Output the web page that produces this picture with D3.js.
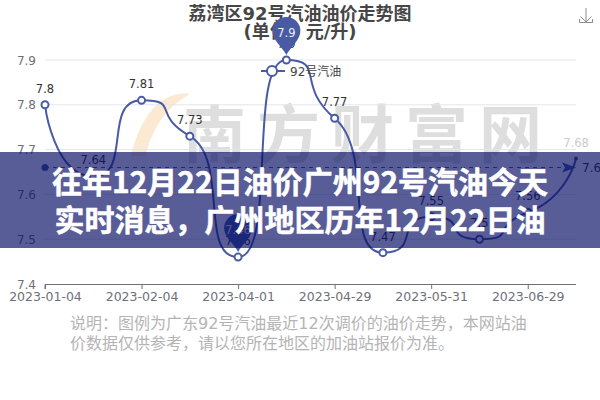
<!DOCTYPE html>
<html><head><meta charset="utf-8">
<script src="https://cdnjs.cloudflare.com/ajax/libs/d3/7.8.5/d3.min.js"></script>
<style>
html,body{margin:0;padding:0;background:#fff;overflow:hidden}
svg{display:block;font-family:"DejaVu Sans","Noto Sans CJK SC",sans-serif}
</style></head><body><svg id="c" width="600" height="400"></svg>
<script>
const categories=["2023-01-04","2023-01-18","2023-02-04","2023-03-03","2023-04-01","2023-04-15","2023-04-29","2023-05-16","2023-05-31","2023-06-14","2023-06-29","2023-07-13"];
const values=[7.8,7.64,7.81,7.73,7.46,7.9,7.77,7.47,7.55,7.5,7.56,7.68];
const yTicks=[7.4,7.5,7.6,7.7,7.8,7.9];
const xTickLabels=["2023-01-04","2023-02-04","2023-04-01","2023-04-29","2023-05-31","2023-06-29"];
const averageValue=7.66;
const seriesName="92号汽油";
const titleLines=["荔湾区92号汽油油价走势图","(单位：元/升)"];
const noteLines=["说明：图例为广东92号汽油最近12次调价的油价走势，本网站油","价数据仅供参考，请以您所在地区的加油站报价为准。"];
const bannerLines=["往年12月22日油价广州92号汽油今天","实时消息，广州地区历年12月22日油"];
const watermark="南方财富网";

const svg=d3.select("#c");
const x=d3.scalePoint().domain(categories).range([45,576]);
const y=d3.scaleLinear().domain([7.4,7.9]).range([284,60]);
const LINE="#4a5ba6";

// watermark
svg.append("path").attr("d","M190 94C160 90 140 118 131 156L146 156C152 125 170 105 190 94Z").attr("fill","#fbe9d2");
svg.append("text").attr("x",183).attr("y",157).attr("font-size",63).attr("font-weight",700)
  .attr("letter-spacing",11).attr("fill","#dedede").style("font-family","'Noto Sans CJK SC'").text(watermark);

// grid
svg.append("g").selectAll("line").data(yTicks.slice(1)).join("line")
  .attr("x1",45).attr("x2",576).attr("y1",d=>y(d)).attr("y2",d=>y(d)).attr("stroke","#e3e6ec");
// y labels
svg.append("g").selectAll("text").data(yTicks).join("text")
  .attr("x",36).attr("y",d=>y(d)+4.5).attr("text-anchor","end").attr("font-size",12).attr("fill","#6e7079").text(d=>d.toFixed(1));
// x axis
const axis=d3.axisBottom(x).tickValues(xTickLabels).tickSize(5).tickPadding(3);
const ax=svg.append("g").attr("transform","translate(0,284)").call(axis);
ax.select(".domain").attr("stroke","#6e7079").attr("d","M45,5V0.5H576");
ax.selectAll(".tick line").attr("stroke","#6e7079");
ax.selectAll(".tick text").attr("fill","#6e7079").attr("font-size",12.5).style("font-family","'DejaVu Sans'");

// title
svg.selectAll("text.title").data(titleLines).join("text").attr("class","title")
  .attr("x",300).attr("y",(d,i)=>20+i*18).attr("text-anchor","middle").attr("font-size",18).attr("font-weight",700).attr("fill","#464646").text(d=>d);

// smooth curve
function Bulge(ctx){this.c=ctx;this.pts=[]}
Bulge.prototype={areaStart(){},areaEnd(){},lineStart(){this.pts=[]},point(a,b){this.pts.push([a,b])},
 lineEnd(){const p=this.pts,n=p.length,k=0.82,t=[];
  for(let i=0;i<n;i++){
    if(i==0||i==n-1){t.push(0);continue}
    const s0=(p[i][1]-p[i-1][1])/(p[i][0]-p[i-1][0]),s1=(p[i+1][1]-p[i][1])/(p[i+1][0]-p[i][0]);
    t.push(s0*s1<=0?0:2*s0*s1/(s0+s1)*0.5);
  }
  this.c.moveTo(p[0][0],p[0][1]);
  for(let i=0;i<n-1;i++){const d=(p[i+1][0]-p[i][0])*k;
    const d1=i==0?0:d,d2=i==n-2?0:d;
    this.c.bezierCurveTo(p[i][0]+d1,p[i][1]+t[i]*d1,p[i+1][0]-d2,p[i+1][1]-t[i+1]*d2,p[i+1][0],p[i+1][1]);}
 }};
const line=d3.line().x((d,i)=>x(categories[i])).y(d=>y(d)).curve(c=>new Bulge(c));
svg.append("path").datum(values).attr("d",line).attr("fill","none").attr("stroke",LINE).attr("stroke-width",2);

// average line
const avgY=y(averageValue);
svg.append("line").attr("x1",45).attr("x2",566).attr("y1",avgY).attr("y2",avgY).attr("stroke",LINE).attr("stroke-dasharray","4 4").attr("stroke-width",1);
svg.append("circle").attr("cx",45).attr("cy",avgY).attr("r",3.5).attr("fill",LINE);
svg.append("path").attr("d",`M576 ${avgY}L562 ${avgY-5}L565 ${avgY}L562 ${avgY+5}Z`).attr("fill",LINE);
svg.append("text").attr("x",582).attr("y",avgY+4).attr("font-size",12).attr("fill","#333").text(averageValue.toFixed(2));

// points and labels
const idxMax=values.indexOf(d3.max(values)),idxMin=values.indexOf(d3.min(values));
const lastIdx=values.length-1;
svg.append("g").selectAll("circle").data(values).join("circle")
  .attr("cx",(d,i)=>x(categories[i])).attr("cy",d=>y(d)).attr("r",(d,i)=>i==lastIdx?2:3.5)
  .attr("fill",(d,i)=>i==lastIdx?LINE:"#fff").attr("stroke",LINE).attr("stroke-width",(d,i)=>i==lastIdx?0:2);
svg.append("g").selectAll("text").data(values).join("text")
  .attr("x",(d,i)=>x(categories[i])).attr("y",d=>y(d)-12).attr("text-anchor","middle").attr("font-size",11.5)
  .attr("fill",(d,i)=>i==lastIdx?"#ccc":"#333").text(d=>d);

// pins
[idxMax,idxMin].forEach(i=>{
  const px=x(categories[i]),py=y(values[i])-5;
  svg.append("path").attr("transform",`translate(${px},${py})`)
    .attr("d","M0 0C-4 -8 -14 -15 -14 -24A14 14 0 1 1 14 -24C14 -15 4 -8 0 0Z").attr("fill",LINE);
  svg.append("text").attr("x",px).attr("y",py-18).attr("text-anchor","middle").attr("font-size",11.5).attr("fill","#eee").text(values[i]);
});

// legend
svg.append("line").attr("x1",261).attr("x2",285).attr("y1",71).attr("y2",71).attr("stroke",LINE).attr("stroke-width",2);
svg.append("circle").attr("cx",272).attr("cy",71).attr("r",5).attr("fill","#fff").attr("stroke",LINE).attr("stroke-width",2);
svg.append("text").attr("x",290).attr("y",75.5).attr("font-size",12).attr("fill","#444").text(seriesName);

// download icon
svg.append("path").attr("d","M586 8V22M580.5 16.5L586 22L591.5 16.5M579.5 19V22.5H592.5V19").attr("fill","none").attr("stroke","#8a8f99").attr("stroke-width",1);

// note
svg.selectAll("text.note").data(noteLines).join("text").attr("class","note")
  .attr("x",70).attr("y",(d,i)=>329+i*19.5).attr("font-size",16).attr("fill","#b4b4b4").text(d=>d);

// banner
svg.append("rect").attr("x",0).attr("y",152).attr("width",600).attr("height",96).attr("fill","rgb(8,14,100)").attr("opacity",0.67);
svg.selectAll("text.banner").data(bannerLines).join("text").attr("class","banner")
  .attr("x",300).attr("y",(d,i)=>193+i*38).attr("text-anchor","middle").attr("font-size",30).attr("font-weight",700)
  .attr("fill","#fff").attr("stroke","#fff").attr("stroke-width",0.5).style("font-family","'Noto Sans CJK SC'").text(d=>d);
</script></body></html>
